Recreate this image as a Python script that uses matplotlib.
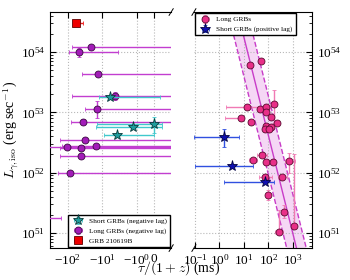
import numpy as np
import matplotlib
matplotlib.use("Agg")
import matplotlib.pyplot as plt

plt.rcParams['mathtext.fontset'] = 'cm'
plt.rcParams['font.family'] = ['Liberation Serif', 'DejaVu Serif']

# ---- left panel: negative lags (ms) ----
# long GRBs, negative lag
neg_long_tau = [-21.6, -46, -13.5, -4.27, -14.5, -36.9, -31.6, -107, -42, -15.5, -40, -84, -1000]
neg_long_tau_lo = [-74, -90, -39.4, -76.9, -31.6, -80.5, -168, -400, -168, -150, -168, -187, -3000]
neg_long_tau_hi = [5, -3.4, 5, 5, 5, 5, 5, 5, 5, 5, 5, 5, -157]
neg_long_L = [1.21e54, 1.01e54, 4.31e53, 1.88e53, 1.135e53, 6.98e52, 3.48e52, 2.69e52, 2.53e52,
              2.75e52, 1.88e52, 9.95e51, 1.77e51]
neg_long_L_lo = [1.15e54, 8.36e53, 4.1e53, 1.6e53, 8.0e52, 6.4e52, 3.3e52, 2.55e52, 2.4e52,
                 2.6e52, 1.75e52, 9.3e51, 1.7e51]
neg_long_L_hi = [1.27e54, 1.18e54, 4.5e53, 2.17e53, 1.54e53, 7.6e52, 3.7e52, 2.85e52, 2.7e52,
                 2.9e52, 2.0e52, 1.06e52, 1.85e51]

# short GRBs, negative lag
neg_short_tau = [-5.96, -0.02, -1.26, -3.8]
neg_short_tau_lo = [-12.2, -14.5, -15.2, -8.7]
neg_short_tau_hi = [0.35, 0.45, 0.45, -0.01]
neg_short_L = [1.77e53, 6.4e52, 5.77e52, 4.26e52]
neg_short_L_lo = [1.65e53, 4.5e52, 5.4e52, 3.9e52]
neg_short_L_hi = [1.9e53, 8.45e52, 6.1e52, 4.6e52]

# GRB 210619B
grb_tau = [-57.5]
grb_tau_lo = [-72]
grb_tau_hi = [-36.9]
grb_L = [3.06e54]

# ---- right panel: positive lags (ms) ----
long_tau = [18.4, 48.6, 13.1, 47, 83, 165, 7.9, 19, 83, 129, 226, 83, 129, 71, 103,
            55, 23, 83, 150, 720, 71, 363, 94, 422, 281, 1150]
long_tau_lo = [15, 40, 1.9, 38, 68, 130, 1.76, 15, 68, 105, 185, 68, 105, 58, 84,
               34, 15.5, 68, 120, 494, 40, 255, 77, 345, 193, 940]
long_tau_hi = [22, 58, 120, 57, 100, 200, 9.5, 23, 100, 155, 275, 100, 155, 86, 125,
               88, 34, 100, 180, 1260, 142, 580, 115, 510, 410, 1400]
long_L = [6.08e53, 7.1e53, 1.24e53, 1.12e53, 1.24e53, 1.36e53, 7.94e52, 6.98e52, 1.0e53,
          8.26e52, 6.73e52, 5.93e52, 5.77e52, 5.22e52, 5.22e52,
          1.96e52, 1.62e52, 1.48e52, 1.52e52, 1.54e52, 8.55e51, 8.45e51, 4.26e51, 2.25e51,
          1.05e51, 1.3e51]
long_L_lo = [5.6e53, 6.6e53, 1.14e53, 1.03e53, 1.14e53, 6.6e52, 7.3e52, 6.4e52, 9.2e52,
             7.6e52, 6.2e52, 5.4e52, 5.3e52, 4.8e52, 4.8e52,
             1.8e52, 1.5e52, 1.36e52, 1.4e52, 1.0e52, 7.9e51, 7.8e51, 3.55e51, 1.8e51,
             0.95e51, 1.15e51]
long_L_hi = [6.6e53, 7.7e53, 1.35e53, 1.22e53, 1.35e53, 2.35e53, 8.6e52, 7.6e52, 1.09e53,
             9.0e52, 7.3e52, 6.4e52, 6.3e52, 5.7e52, 5.7e52,
             2.15e52, 1.76e52, 1.62e52, 1.65e52, 2.1e52, 9.3e51, 9.2e51, 5.1e51, 2.9e51,
             2.4e51, 2.0e52]

# short GRBs, positive lag
short_tau = [1.6, 3.3, 75]
short_tau_lo = [0.09, 0.1, 1.5]
short_tau_hi = [6.1, 23, 176]
short_L = [3.94e52, 1.3e52, 7.08e51]
short_L_lo = [2.63e52, 1.2e52, 6.6e51]
short_L_hi = [5.25e52, 1.4e52, 7.6e51]

# fit: log L = a + b log tau, +/- sigma (dex)
fit_a, fit_b, fit_sig = 55.87, -1.626, 0.65

ylim = (5.6e50, 4.6e54)


def err(v, lo, hi):
    v = np.asarray(v, float)
    return [v - np.asarray(lo, float), np.asarray(hi, float) - v]


fig = plt.figure(figsize=(3.5, 2.8), dpi=100)
axl = fig.add_axes([0.143, 0.114, 0.346, 0.843])
axr = fig.add_axes([0.554, 0.114, 0.337, 0.843])

grid_kw = dict(color='#b8b8b8', linestyle=':', linewidth=0.8)

# left panel
axl.set_xscale('symlog', linthresh=1, linscale=0.45)
axl.set_yscale('log')
axl.errorbar(neg_long_tau, neg_long_L,
             xerr=err(neg_long_tau, neg_long_tau_lo, neg_long_tau_hi),
             yerr=err(neg_long_L, neg_long_L_lo, neg_long_L_hi),
             fmt='o', ms=5, mfc='#a21cb8', mec='#3a0a40', mew=0.6,
             ecolor='#c23ed0', elinewidth=1.0, capsize=1.2, zorder=3,
             label='Long GRBs (negative lag)')
axl.errorbar(neg_short_tau, neg_short_L,
             xerr=err(neg_short_tau, neg_short_tau_lo, neg_short_tau_hi),
             yerr=err(neg_short_L, neg_short_L_lo, neg_short_L_hi),
             fmt='*', ms=8, mfc='#1f9c9c', mec='#0a3a3a', mew=0.6,
             ecolor='#40c8cc', elinewidth=1.0, capsize=1.2, zorder=4,
             label='Short GRBs (negative lag)')
axl.errorbar(grb_tau, grb_L,
             xerr=err(grb_tau, grb_tau_lo, grb_tau_hi),
             fmt='s', ms=5.5, mfc='#ee0000', mec='#600000', mew=0.6,
             ecolor='#ee2020', elinewidth=1.0, capsize=1.5, zorder=5,
             label='GRB 210619B')
axl.set_xlim(-324, 1)
axl.set_ylim(*ylim)
axl.set_xticks([-100, -10, -1, 0])
axl.xaxis.set_minor_locator(matplotlib.ticker.NullLocator())
axl.grid(True, which='major', **grid_kw)
axl.spines['right'].set_visible(False)
axl.tick_params(which='both', direction='in', top=True, right=False, labelsize=9.5)
axl.tick_params(which='major', length=4)
axl.tick_params(which='minor', length=2)
axl.set_ylabel(r'$L_{\gamma,\rm iso}$ (erg sec$^{-1}$)', fontsize=10, labelpad=0)

h, l = axl.get_legend_handles_labels()
order = [1, 0, 2]
axl.legend([h[i] for i in order], [l[i] for i in order], loc='lower right',
           fontsize=5.2, frameon=True, fancybox=False, edgecolor='black',
           framealpha=1, borderpad=0.4, handletextpad=0.5, labelspacing=0.5,
           borderaxespad=0.2)

# right panel
axr.set_xscale('log')
axr.set_yscale('log')
tt = np.logspace(-1.2, 4, 100)
lt = fit_a + fit_b * np.log10(tt)
axr.fill_between(tt, 10 ** (lt - fit_sig), 10 ** (lt + fit_sig), color='#f3cdf3', alpha=0.8, lw=0)
axr.plot(tt, 10 ** lt, color='#c83cc8', lw=1.0)
axr.plot(tt, 10 ** (lt - fit_sig), color='#c83cc8', lw=1.0, ls='--')
axr.plot(tt, 10 ** (lt + fit_sig), color='#c83cc8', lw=1.0, ls='--')
axr.errorbar(long_tau, long_L,
             xerr=err(long_tau, long_tau_lo, long_tau_hi),
             yerr=err(long_L, long_L_lo, long_L_hi),
             fmt='o', ms=5, mfc='#e82f88', mec='#5a0a30', mew=0.6,
             ecolor='#f07ab4', elinewidth=1.0, capsize=1.2, zorder=3,
             label='Long GRBs')
axr.errorbar(short_tau, short_L,
             xerr=err(short_tau, short_tau_lo, short_tau_hi),
             yerr=err(short_L, short_L_lo, short_L_hi),
             fmt='*', ms=8, mfc='#1010b0', mec='#050540', mew=0.6,
             ecolor='#3050e0', elinewidth=1.0, capsize=1.2, zorder=4,
             label='Short GRBs (positive lag)')
axr.set_xlim(0.09, 6000)
axr.set_ylim(*ylim)
axr.set_xticks([0.1, 1, 10, 100, 1000])
axr.grid(True, which='major', **grid_kw)
axr.spines['left'].set_visible(False)
axr.yaxis.tick_right()
axr.tick_params(which='both', direction='in', top=True, left=False, right=True,
                labelleft=False, labelright=True, labelsize=9.5)
axr.tick_params(which='major', length=4)
axr.tick_params(which='minor', length=2)
axr.legend(loc='upper left', fontsize=5.2, frameon=True, fancybox=False,
           edgecolor='black', framealpha=1, borderpad=0.4, handletextpad=0.5,
           labelspacing=0.5, borderaxespad=0.2)

# break marks
dx, dy = 0.017, 0.014
kw = dict(color='k', lw=0.7, clip_on=False)
axl.plot([1 - dx, 1 + dx], [1 - dy, 1 + dy], transform=axl.transAxes, **kw)
axl.plot([1 - dx, 1 + dx], [-dy, dy], transform=axl.transAxes, **kw)
axr.plot([-dx, dx], [1 - dy, 1 + dy], transform=axr.transAxes, **kw)
axr.plot([-dx, dx], [-dy, dy], transform=axr.transAxes, **kw)

fig.text(0.51, 0.01, r'$\tau/(1+z)$ (ms)', ha='center', va='bottom', fontsize=10)

fig.savefig('out.png', dpi=100)
